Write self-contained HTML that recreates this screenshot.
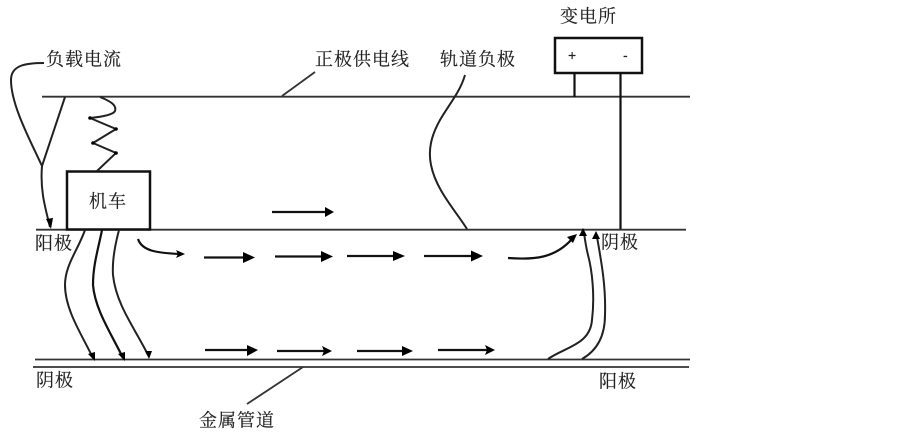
<!DOCTYPE html>
<html>
<head>
<meta charset="utf-8">
<style>
html,body{margin:0;padding:0;background:#fff;width:902px;height:437px;overflow:hidden}
svg{display:block;filter:blur(.35px)}
text{font-family:"Liberation Serif","Noto Serif CJK SC",serif;font-size:18px;fill:#222;stroke:#222;stroke-width:.15;letter-spacing:1px}
.l{fill:none;stroke:#333;stroke-width:1.8}
.d{fill:none;stroke:#222;stroke-width:2}
.a{fill:none;stroke:#111;stroke-width:2.2}
.h{fill:#000;stroke:none}
</style>
</head>
<body>
<svg width="902" height="437" viewBox="0 0 902 437" xmlns="http://www.w3.org/2000/svg">
<!-- main lines -->
<path class="l" d="M42 96.700H690"/>
<path class="l" d="M36 229.700H686"/>
<path class="l" d="M35 359.500H690"/>
<path class="l" d="M33 367H689"/>
<!-- boxes -->
<rect x="67" y="171.500" width="83" height="58" fill="#fff" stroke="#111" stroke-width="2.500"/>
<rect x="555" y="38" width="87" height="35" fill="#fff" stroke="#111" stroke-width="2.500"/>
<path d="M574.500 73V97M620.500 73V229" fill="none" stroke="#111" stroke-width="2.200"/>
<!-- station signs -->
<text x="568" y="60" style="font-size:14px;font-family:'Liberation Sans',sans-serif;letter-spacing:0">+</text>
<text x="623" y="60" style="font-size:14px;font-family:'Liberation Sans',sans-serif;letter-spacing:0">-</text>
<!-- load current leaders -->
<path class="d" d="M44 63C26 63 11 65 11 80C11 105 30 140 42 166"/>
<path class="d" d="M65 97L42 166C40 190 45 207 50 227"/>
<path class="h" d="M51 229L46 219L53 218Z"/>
<!-- spring -->
<path class="d" d="M100 97C110 101 117 105 115 111C113 115 100 117 90 118L116 129L93 143L116 153L97 171"/>
<circle cx="90" cy="118" r="1.800"/><circle cx="116" cy="129" r="1.800"/><circle cx="93" cy="143" r="1.800"/><circle cx="116" cy="153" r="1.800"/>
<!-- leaders -->
<path class="l" d="M315 72L282 96"/>
<path class="d" d="M465 75C460 92 450 103 440 120C431 136 428 150 431 165C436 190 455 210 467 229"/>
<path class="l" d="M303 367L247 404"/>
<!-- stray currents down -->
<path class="d" d="M85 230C78 250 65 265 65 285C65 310 82 335 93 358"/>
<path class="h" d="M95 361L88 354L95 352Z"/>
<path class="a" d="M102 230C98 250 93 265 93 285C95 310 112 335 123 358"/>
<path class="h" d="M125 361L118 354L125 352Z"/>
<path class="d" d="M119 230C115 245 112 260 113 275C116 305 136 330 148 355"/>
<path class="h" d="M149 359L145 351L152 351Z"/>
<!-- arrow near loco -->
<path class="a" d="M138 239C142 251 157 253 180 254"/>
<path class="h" d="M185 254L176 250L178 254L176 258Z"/>
<!-- straight arrows -->
<path class="a" d="M272 212H328"/>
<path class="a" d="M204 257.500H245"/>
<path class="a" d="M275 256.500H323"/>
<path class="a" d="M347 256H396"/>
<path class="a" d="M424 256H473"/>
<path class="a" d="M205 350H250"/>
<path class="a" d="M277 351H325"/>
<path class="a" d="M357 351H405"/>
<path class="a" d="M438 350H488"/>
<path class="h" d="M334 212L325 207V217Z"/>
<path class="h" d="M255 257.500L243 252V263Z"/>
<path class="h" d="M333 256.500L321 251V262Z"/>
<path class="h" d="M405 256L393 251V261Z"/>
<path class="h" d="M483 256L471 250.500V261.500Z"/>
<path class="h" d="M258 350L247 345V356Z"/>
<path class="h" d="M332 351L322 346L324 351L322 356Z"/>
<path class="h" d="M413 351L402 346V356Z"/>
<path class="h" d="M495 350L485 345L487 350L485 355Z"/>
<!-- return curve -->
<path class="a" d="M508 258C535 260 555 258 572 239"/>
<path class="h" d="M577 234L573 243L567 237Z"/>
<!-- up curves -->
<path class="d" d="M548 359C565 347 590 345 592 320C595 295 592 270 588 255C586 247 585 240 584 233"/>
<path class="h" d="M583 228L587 236L579 236Z"/>
<path class="d" d="M582 359C598 350 605 335 605 315C606 285 601 260 597 237"/>
<path class="h" d="M596 231L600 239L592 239Z"/>
<!-- labels -->
<text x="46" y="65.500">负载电流</text>
<text x="315" y="65.500">正极供电线</text>
<text x="440" y="65.500">轨道负极</text>
<text x="560" y="22.500">变电所</text>
<text x="89" y="207.500">机车</text>
<text x="35" y="249.500">阳极</text>
<text x="601" y="248.500">阴极</text>
<text x="36" y="386.500">阴极</text>
<text x="599" y="387.500">阳极</text>
<text x="199" y="426.500">金属管道</text>
</svg>
</body>
</html>
